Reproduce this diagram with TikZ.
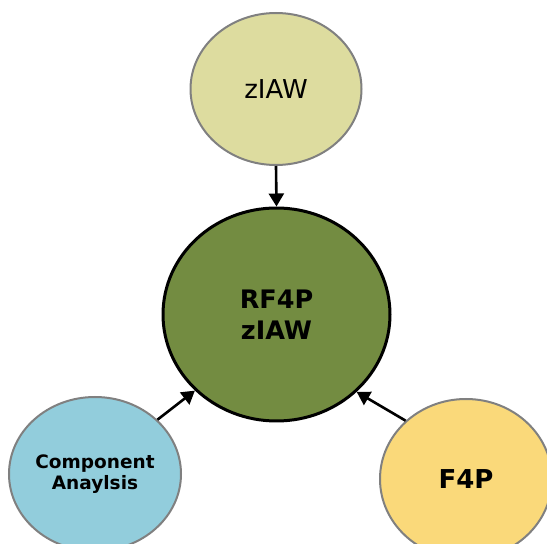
\documentclass[tikz,border=0pt]{standalone}
\usepackage{fontspec}
\setmainfont{DejaVu Sans}
\usetikzlibrary{shapes.geometric,arrows.meta}
\definecolor{topfill}{HTML}{DDDC9F}
\definecolor{midfill}{HTML}{738C41}
\definecolor{leftfill}{HTML}{92CDDC}
\definecolor{rightfill}{HTML}{FAD97A}
\definecolor{rimgray}{HTML}{808080}
\tikzset{
  bubble/.style={ellipse, draw=rimgray, line width=2pt, inner sep=0pt, align=center},
  hub/.style={ellipse, draw=black, line width=3pt, inner sep=0pt, align=center},
  link/.style={line width=2.6pt, -{Triangle[length=13pt,width=15pt]}}
}
\begin{document}
\begin{tikzpicture}[x=1pt,y=1pt]
\useasboundingbox (0,0) rectangle (547,544);
\node[bubble, fill=topfill, minimum width=171pt, minimum height=152pt, font=\fontsize{26}{30}\selectfont] (t) at (276,455) {zIAW};
\node[hub, fill=midfill, minimum width=227pt, minimum height=213pt, font=\fontsize{25.5}{31}\selectfont\bfseries] (c) at (276.5,229.5) {RF4P\\zIAW};
\node[bubble, fill=leftfill, minimum width=172pt, minimum height=154pt, font=\fontsize{18.5}{21.5}\selectfont\bfseries] (l) at (95,70) {Component\\Anaylsis};
\node[bubble, fill=rightfill, minimum width=172pt, minimum height=160pt, font=\fontsize{26}{30}\selectfont\bfseries] (r) at (466,65) {F4P};
\draw[link] (t.south) -- (c.north);
\draw[link] (l.41) -- (c.223.5);
\draw[link] (r.136) -- (c.316);
\end{tikzpicture}
\end{document}
